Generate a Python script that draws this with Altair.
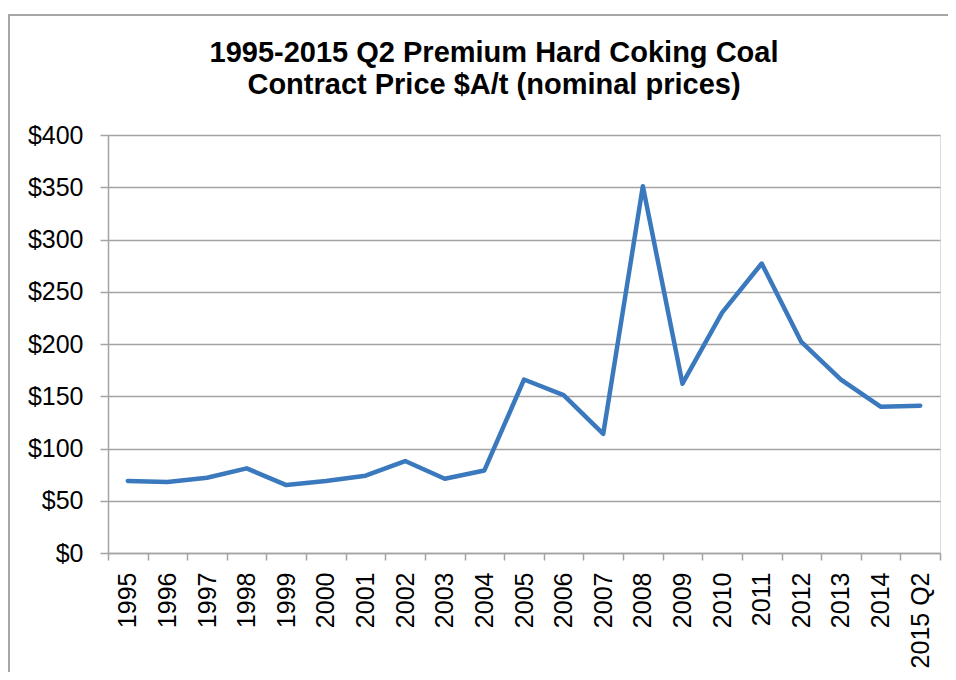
import altair as alt
import pandas as pd

years = ["1995", "1996", "1997", "1998", "1999", "2000", "2001", "2002", "2003", "2004",
         "2005", "2006", "2007", "2008", "2009", "2010", "2011", "2012", "2013", "2014", "2015 Q2"]
prices = [69, 68, 72, 81, 65, 69, 74, 88, 71, 79,
          166, 151, 114, 351, 162, 230, 277, 202, 166, 140, 141]

df = pd.DataFrame({"year": years, "price": prices})

FONT = "Liberation Sans"
GRAY = "#a3a3a3"

line = alt.Chart(df).mark_line(
    color="#3a79be", strokeWidth=4.5, strokeCap="round", strokeJoin="round"
).encode(
    x=alt.X("year:N", sort=years, title=None,
            scale=alt.Scale(paddingInner=0, paddingOuter=0),
            axis=alt.Axis(labelAngle=-90, labelFontSize=25, labelFont=FONT,
                          labelColor="black", labelPadding=12, tickSize=7,
                          tickBand="extent", tickColor=GRAY, domainColor=GRAY,
                          tickWidth=1.5, domainWidth=1.5, grid=False,
                          labelOverlap=False)),
    y=alt.Y("price:Q", title=None,
            scale=alt.Scale(domain=[0, 400], nice=False),
            axis=alt.Axis(values=[0, 50, 100, 150, 200, 250, 300, 350, 400],
                          format="$.0f", labelFontSize=25, labelFont=FONT,
                          labelColor="black", labelPadding=17, tickSize=8,
                          tickColor=GRAY, domainColor=GRAY, gridColor=GRAY,
                          tickWidth=1.5, domainWidth=1.5, gridWidth=1.5)),
)

# chart border (top and left edges only visible in the reference crop)
frame_top = alt.Chart(df).mark_rule(color="#a6a6a6", strokeWidth=2).encode(
    x=alt.value(-100), x2=alt.value(840), y=alt.value(-120)
)
frame_left = alt.Chart(df).mark_rule(color="#a6a6a6", strokeWidth=2).encode(
    x=alt.value(-99), y=alt.value(-121), y2=alt.value(537)
)

chart = alt.layer(frame_top, frame_left, line).properties(
    width=832, height=418,
    autosize=alt.AutoSizeParams(type="none"),
    padding={"left": 100, "top": 127, "right": 8, "bottom": 119},
    title=alt.Title(
        ["1995-2015 Q2 Premium Hard Coking Coal", "Contract Price $A/t (nominal prices)"],
        fontSize=29, font=FONT, fontWeight="bold", color="black",
        lineHeight=32.5, anchor="middle", frame="group", dx=-30, offset=-116,
        baseline="bottom"),
).configure_view(stroke=None).configure(background="white")

chart.save("out.html", embed_options={"renderer": "svg", "actions": False})
